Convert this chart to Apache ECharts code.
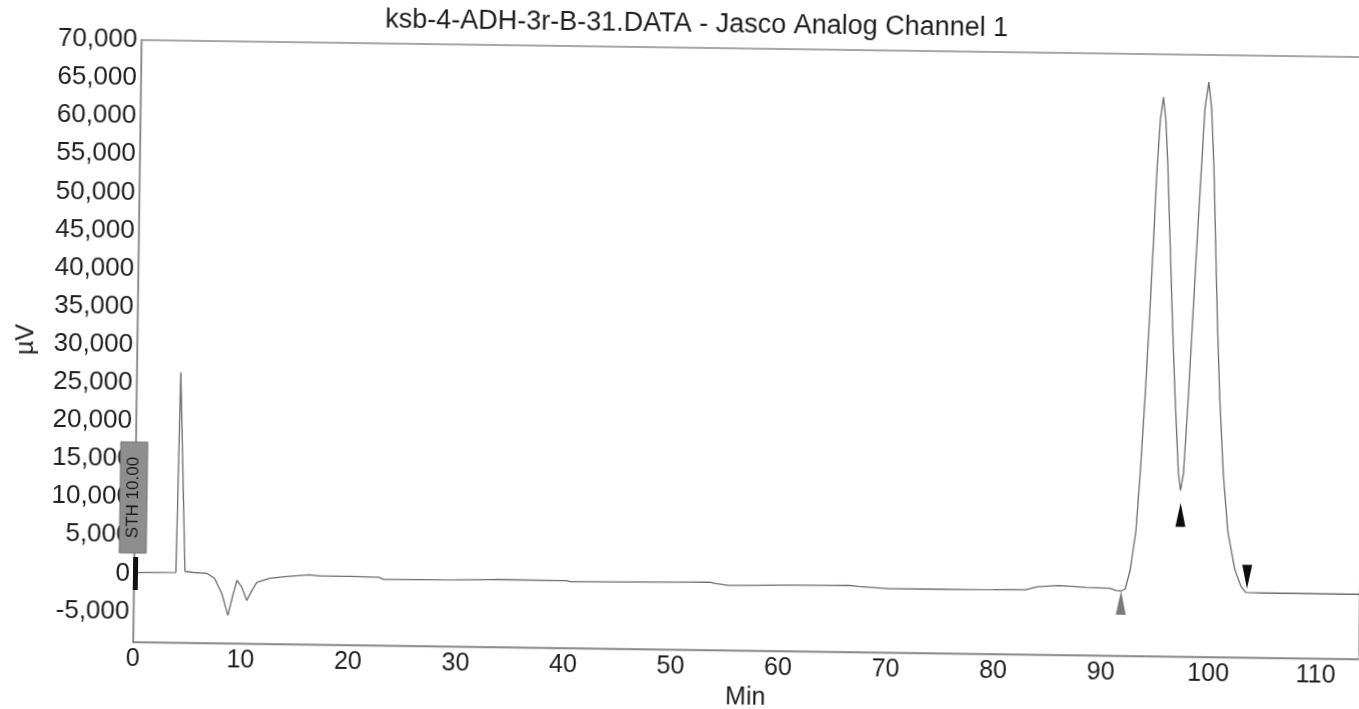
<!DOCTYPE html>
<html>
<head>
<meta charset="utf-8">
<script src="https://cdn.jsdelivr.net/npm/echarts@6/dist/echarts.min.js"></script>
<style>
html,body{margin:0;padding:0;background:#fff;overflow:hidden;}
#chart{width:1359px;height:709px;transform:rotate(0.8deg);transform-origin:133px 642px;}
</style>
</head>
<body>
<div id="chart"></div>
<script>
// ---- data ----
const chartTitle = 'ksb-4-ADH-3r-B-31.DATA - Jasco Analog Channel 1';
const xAxisName = 'Min';
const yAxisName = 'µV';
const timeMin = [
  0, 3.9, 4.1, 4.74, 5.5, 6.8, 7.5, 8.2, 8.79, 9.2, 9.58, 10.0, 10.52, 11.0, 11.43,
  12.64, 14.0, 16.3, 17.3, 20.1, 22.8, 23.2, 30, 34, 40.2, 40.6, 47.9, 53.5, 54.1,
  55.3, 60, 66.5, 67.4, 70.2, 75, 80, 83, 84, 86, 88.5, 90.7, 91.3, 91.8, 92.18,
  92.63, 93.1, 93.43, 93.78, 94.08, 94.35, 94.6, 94.85, 95.1, 95.35, 95.6, 95.91,
  96.22, 96.57, 96.98, 97.2, 97.45, 97.8, 98.1, 98.4, 98.72, 98.98, 99.3, 99.6,
  99.88, 100.14, 100.4, 100.72, 101.15, 101.65, 102.35, 102.95, 103.4, 105, 110, 114
];
const signalUV = [
  100, 200, 26480, 350, 250, 130, -510, -2500, -5340, -2800, -730, -1500, -3340, -2000, -950,
  -400, -150, 150, 0, 0, -50, -320, -250, -120, -150, -300, -190, -80, -250,
  -480, -350, -260, -400, -620, -600, -550, -500, -100, 100, -100, -150, -430, -500, -210,
  2320, 7380, 15000, 25000, 35000, 45000, 55000, 61500, 64390, 61500, 55420, 45320,
  35230, 25130, 15050, 12800, 15060, 25000, 35000, 45000, 55000, 63000, 66440, 63000,
  55500, 45400, 35300, 25200, 15100, 7500, 2500, 300, -450, -500, -500, -500
];
// integration markers (peak start, valley split, peak end)
const markerTimes = [91.8, 97.23, 103.5];
const markerValues = [-2060, 9600, 1590];
const xTicks = [0, 10, 20, 30, 40, 50, 60, 70, 80, 90, 100, 110];
const yTicks = [-5000, 0, 5000, 10000, 15000, 20000, 25000, 30000, 35000, 40000,
                45000, 50000, 55000, 60000, 65000, 70000];
const boxLabel = 'STH 10.00';

// ---- chart ----
const chart = echarts.init(document.getElementById('chart'), null, {renderer: 'canvas'});
const traceData = timeMin.map((t, i) => [t, signalUV[i]]);
const fontFam = '"Liberation Sans", Arial, sans-serif';

chart.setOption({
  animation: false,
  backgroundColor: '#ffffff',
  title: {
    text: chartTitle,
    left: 688,
    textAlign: 'center',
    top: 3,
    padding: 0,
    textStyle: {fontFamily: fontFam, fontSize: 27, fontWeight: 'normal', color: '#1e1e1e'}
  },
  grid: {
    left: 133, top: 40, right: 0, bottom: 67,
    show: true, borderColor: '#8a8a8a', borderWidth: 1.3, backgroundColor: 'transparent'
  },
  xAxis: {
    type: 'value',
    min: 0, max: 114,
    name: xAxisName,
    nameLocation: 'middle',
    nameGap: 32,
    nameTextStyle: {fontFamily: fontFam, fontSize: 25, color: '#1e1e1e'},
    axisLine: {onZero: false, lineStyle: {color: '#8a8a8a', width: 1.4}},
    axisTick: {show: false},
    splitLine: {show: false},
    axisLabel: {
      customValues: xTicks,
      margin: 5,
      fontFamily: fontFam, fontSize: 25, color: '#1e1e1e'
    }
  },
  yAxis: {
    type: 'value',
    min: -9000, max: 70000,
    name: yAxisName,
    nameLocation: 'middle',
    nameGap: 98,
    nameRotate: 90,
    nameTextStyle: {fontFamily: fontFam, fontSize: 25, color: '#1e1e1e'},
    axisLine: {show: true, lineStyle: {color: '#8a8a8a', width: 1.4}},
    axisTick: {show: false},
    splitLine: {show: false},
    axisLabel: {
      customValues: yTicks,
      margin: 4,
      fontFamily: fontFam, fontSize: 26, color: '#1e1e1e',
      formatter: v => Number(v).toLocaleString('en-US')
    }
  },
  series: [
    {
      type: 'line',
      data: traceData,
      showSymbol: false,
      lineStyle: {color: '#6c6c6c', width: 1.3},
      z: 3
    },
    {
      type: 'scatter',
      symbol: 'triangle',
      symbolSize: [10, 24],
      z: 5,
      itemStyle: {opacity: 1},
      data: [
        {value: [markerTimes[0], markerValues[0]], itemStyle: {color: '#7a7a7a', opacity: 1}},
        {value: [markerTimes[1], markerValues[1]], itemStyle: {color: '#0c0c0c', opacity: 1}},
        {value: [markerTimes[2], markerValues[2]], itemStyle: {color: '#0c0c0c', opacity: 1}, symbolRotate: 180}
      ]
    }
  ],
  graphic: [
    {
      type: 'rect', z: 100,
      shape: {x: 118, y: 442, width: 27, height: 111},
      style: {fill: '#8e8e8e', stroke: '#767676', lineWidth: 1}
    },
    {
      type: 'text', z: 101,
      x: 131.5, y: 497.5, rotation: Math.PI / 2,
      style: {text: boxLabel, fill: '#1a1a1a', font: '17px ' + fontFam, align: 'center', verticalAlign: 'middle'}
    },
    {
      type: 'rect', z: 100,
      shape: {x: 132, y: 557, width: 5, height: 33},
      style: {fill: '#111111'}
    }
  ]
});
</script>
</body>
</html>
